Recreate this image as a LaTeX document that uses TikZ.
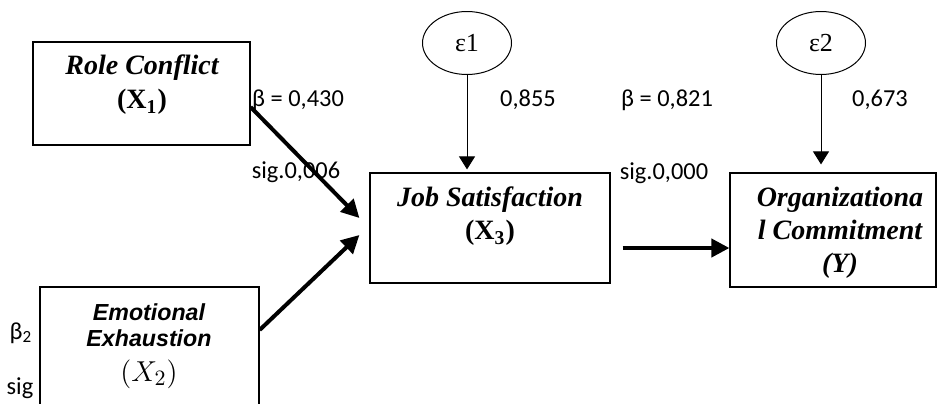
\documentclass[tikz,border=0pt]{standalone}
\usepackage{fontspec}
\setmainfont{Liberation Serif}
\newfontfamily\labelfont{Carlito}
\newfontfamily\arialfont{Liberation Sans}
\usetikzlibrary{calc,arrows.meta,shapes.geometric}

\tikzset{
  varbox/.style={draw, line width=0.6pt, inner sep=0pt},
  errnode/.style={draw, ellipse, line width=0.5pt, inner sep=0pt,
    minimum width=44.5pt, minimum height=31.5pt, font=\fontsize{13}{15}\selectfont},
  boxtext/.style={align=center, inner sep=0pt, font=\fontsize{14}{16.5}\selectfont\bfseries\itshape},
  sanstext/.style={inner sep=0pt, font=\arialfont\fontsize{11.6}{14}\selectfont\bfseries\itshape},
  coef/.style={inner sep=0pt, font=\labelfont\fontsize{12.2}{14}\selectfont},
  effectline/.style={line width=2pt, -{Triangle[length=9pt,width=9pt]}},
  residline/.style={line width=0.5pt, -{Triangle[length=6.5pt,width=8pt]}},
}

\begin{document}
\begin{tikzpicture}[x=0.5pt,y=-0.5pt]
\useasboundingbox[fill=white] (0,0) rectangle (937,403);

% variable boxes
\node[varbox, minimum width=108.5pt, minimum height=51.5pt] (rc) at (141.5,93.5) {};
\node[varbox, minimum width=109.5pt, minimum height=66.5pt] (ee) at (149.5,353.5) {};
\node[varbox, minimum width=120pt, minimum height=55pt] (js) at (490,228) {};
\node[varbox, minimum width=103pt, minimum height=57pt] (oc) at (833,230) {};

% box captions
\node[boxtext] (rct) at (142,68) {Role Conflict};
\node[boxtext] (rcx) at (142,102) {\normalfont\bfseries(X\textsubscript{1})};
\node[sanstext] (eet1) at (149,312) {Emotional};
\node[sanstext] (eet2) at (149,338) {Exhaustion};
\node[inner sep=0pt, font=\fontsize{15}{17}\selectfont] (eex) at (149,374) {$(X_2)$};
\node[boxtext] (jst) at (490,200) {Job Satisfaction};
\node[boxtext] (jsx) at (490,233) {\normalfont\bfseries(X\textsubscript{3})};
\node[boxtext] (oct) at (840,232.5) {Organizationa\\l Commitment\\(Y)};

% residual terms
\node[errnode] (e1) at (467,43) {ε1};
\node[errnode] (e2) at (821,43) {ε2};

% structural paths
\draw[effectline] ($(rc.east)+(0,13.5)$) -- ($(js.west)+(-10,-10)$);
\draw[effectline] ($(ee.east)+(0,-23.5)$) -- ($(js.west)+(-10,7)$);
\draw[effectline] ($(js.east)+(12,20)$) -- ($(oc.west)+(0,18)$);
\draw[residline, shorten >=1.5pt] (e1.south) -- (e1.south |- js.north);
\draw[residline, shorten >=4pt] (e2.south) -- (e2.south |- oc.north);

% coefficients
\node[coef] (b1) at (298,100) {β = 0,430};
\node[coef] (s1) at (296,172) {sig.0,006};
\node[coef] (r1) at (528,100) {0,855};
\node[coef] (b3) at (667,100) {β = 0,821};
\node[coef] (s3) at (664,173) {sig.0,000};
\node[coef] (r2) at (880,100) {0,673};
\node[coef] (b2) at (21,333) {β\textsubscript{2}};
\node[coef] (s2) at (20,388) {sig};
\end{tikzpicture}
\end{document}
